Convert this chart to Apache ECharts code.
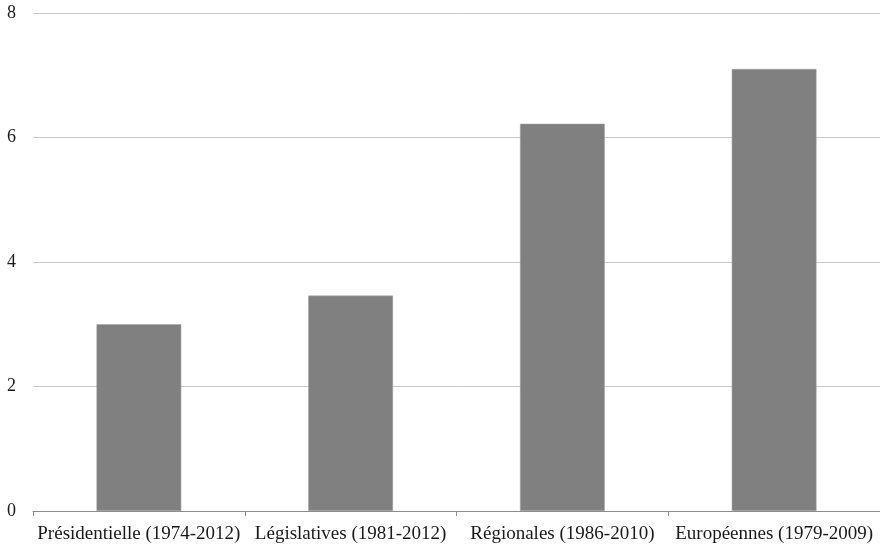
<!DOCTYPE html>
<html>
<head>
<meta charset="utf-8">
<script src="https://cdn.jsdelivr.net/npm/echarts@6/dist/echarts.min.js"></script>
<style>html,body{margin:0;padding:0;background:#fff}#c{width:880px;height:546px}</style>
</head>
<body>
<div id="c"></div>
<script>
const categories = ["Présidentielle (1974-2012)", "Législatives (1981-2012)", "Régionales (1986-2010)", "Européennes (1979-2009)"];
const values = [3.0, 3.46, 6.22, 7.10];
const yTicks = [0, 2, 4, 6, 8];

const font = "'Liberation Serif', 'DejaVu Serif', serif";
const chart = echarts.init(document.getElementById('c'), null, {renderer: 'canvas'});
chart.setOption({
  animation: false,
  backgroundColor: '#ffffff',
  grid: {left: 33, right: -1, top: 13, bottom: 35, containLabel: false},
  xAxis: {
    type: 'category',
    data: categories,
    axisLine: {lineStyle: {color: '#8c8c8c', width: 1}},
    axisTick: {show: true, length: 5, lineStyle: {color: '#8c8c8c'}, alignWithLabel: false},
    axisLabel: {color: '#1a1a1a', fontFamily: font, fontSize: 19, margin: 14, interval: 0}
  },
  yAxis: {
    type: 'value',
    min: yTicks[0], max: yTicks[yTicks.length - 1], interval: 2,
    axisLine: {show: false},
    axisTick: {show: false},
    splitLine: {lineStyle: {color: '#c8c8c8', width: 1}},
    axisLabel: {color: '#1a1a1a', fontFamily: font, fontSize: 18, margin: 17}
  },
  series: [{
    type: 'bar',
    data: values,
    barCategoryGap: '60%',
    itemStyle: {color: '#808080', borderColor: '#a0a0a0', borderWidth: 0.5}
  }]
});
</script>
</body>
</html>
